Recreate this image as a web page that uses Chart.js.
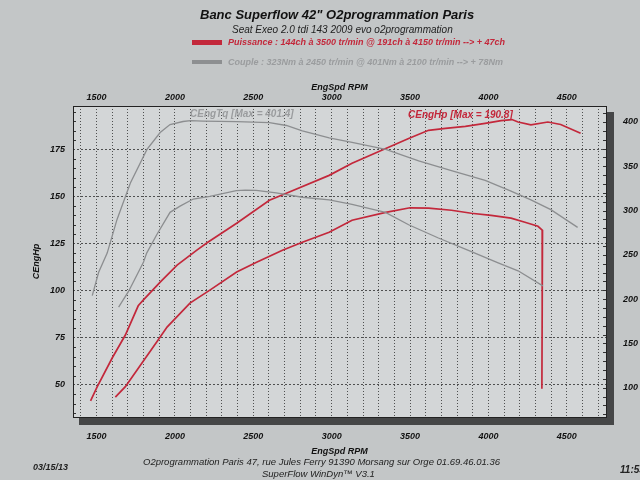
<!DOCTYPE html>
<html>
<head>
<meta charset="utf-8">
<script src="https://cdn.jsdelivr.net/npm/chart.js@4.4.1/dist/chart.umd.min.js"></script>
<style>
  body { margin: 0; background: #c3c6c7; }
  #wrap { position: relative; width: 640px; height: 480px; overflow: hidden; font-family: 'Liberation Sans', Arial, sans-serif; font-style: italic; }
  #wrap canvas { position: absolute; left: 0; top: 0; }
  .t { position: absolute; white-space: nowrap; line-height: 1; }
  .b { font-weight: bold; }
  .red { color: #c3283b; }
  .grey { color: #9a9c9e; }
  .bar { position: absolute; width: 30px; }
</style>
</head>
<body>
<div id="wrap">
  <canvas id="dyno" width="640" height="480"></canvas>
  <div class="t b" style="left:200px;top:8px;font-size:13px;color:#111">Banc Superflow 42" O2programmation Paris</div>
  <div class="t" style="left:232px;top:25px;font-size:10px;color:#222">Seat Exeo 2.0 tdi 143 2009 evo o2programmation</div>
  <div class="bar" style="left:192px;top:40px;height:5px;background:#c3283b"></div>
  <div class="t b red" style="left:228px;top:38px;font-size:9px">Puissance : 144ch à 3500 tr/min @ 191ch à 4150 tr/min --&gt; + 47ch</div>
  <div class="bar" style="left:192px;top:60px;height:4px;background:#8d8f91"></div>
  <div class="t b grey" style="left:228px;top:58px;font-size:9px">Couple : 323Nm à 2450 tr/min @ 401Nm à 2100 tr/min --&gt; + 78Nm</div>
  <div class="t b grey" style="left:190px;top:109px;font-size:10px">CEngTq [Max = 401.4]</div>
  <div class="t b red" style="left:408px;top:110px;font-size:10px">CEngHp [Max = 190.8]</div>
  <div class="t b" style="left:33px;top:463px;font-size:9px;color:#222">03/15/13</div>
  <div class="t" style="left:143px;top:457px;font-size:9.5px;color:#222">O2programmation Paris 47, rue Jules Ferry 91390 Morsang sur Orge 01.69.46.01.36</div>
  <div class="t" style="left:262px;top:469px;font-size:9.5px;color:#222">SuperFlow WinDyn™ V3.1</div>
  <div class="t b" style="left:620px;top:465px;font-size:10px;color:#222">11:53</div>
</div>
<script>
// puissance après reprog (ch)
const rpmHpTuned = [1462, 1504, 1600, 1684, 1766, 1798, 1906, 2014, 2140, 2210, 2394, 2603, 2711, 2984, 3130, 3345, 3491, 3618, 3726, 3853, 3979, 4081, 4150, 4189, 4271, 4379, 4461, 4588];
const hpTuned = [41.5, 49, 64.3, 76.5, 92, 95, 104.6, 113.6, 121.5, 125.7, 135.8, 148, 151.7, 161.2, 167.6, 175.5, 180.8, 185.1, 186.1, 187.2, 188.8, 190.2, 190.8, 189.5, 188, 189.5, 188.2, 183.5];

// puissance d'origine (ch)
const rpmHpStock = [1620, 1684, 1790, 1893, 1950, 2096, 2223, 2394, 2521, 2686, 2813, 2984, 3130, 3345, 3500, 3618, 3764, 3891, 4017, 4144, 4233, 4316, 4345, 4343, 4341];
const hpStock = [43.5, 49.1, 61.7, 73.8, 80.7, 93.4, 100.3, 109.9, 115.1, 121.5, 125.7, 131, 137.4, 141.6, 144, 143.8, 142.7, 141.1, 140, 138.5, 136.3, 134.2, 132, 90, 48];

// couple après reprog (Nm)
const rpmTqTuned = [1473, 1513, 1568, 1631, 1716, 1822, 1906, 1969, 2052, 2100, 2178, 2394, 2603, 2711, 2813, 2984, 3130, 3345, 3555, 3764, 3979, 4144, 4271, 4398, 4569];
const tqTuned = [204, 230, 252, 290, 331, 369, 388, 397, 400.5, 401.4, 401, 400.4, 399.3, 396, 390, 382, 377, 369, 356, 345, 334, 322, 312, 301, 281];

// couple d'origine (Nm)
const rpmTqStock = [1641, 1705, 1800, 1820, 1885, 1969, 2033, 2117, 2223, 2392, 2450, 2519, 2646, 2813, 2984, 3130, 3343, 3491, 3681, 3872, 4062, 4189, 4347];
const tqStock = [191, 209, 242, 252, 273, 298, 305, 313, 316, 322.5, 323, 322.8, 320, 315, 312, 307, 298, 284, 269, 255, 241, 232, 215];

const rpmLabels = [1500, 2000, 2500, 3000, 3500, 4000, 4500];
const hpLabels = [50, 75, 100, 125, 150, 175];
const tqLabels = [100, 150, 200, 250, 300, 350, 400];

const RED = '#c3283b';
const GREY = '#8c8e90';
const GRID = 'rgba(35,35,35,0.75)';
const tickFont = { family: "'Liberation Sans', Arial, sans-serif", size: 9, weight: 'bold', style: 'italic' };
const pts = (xs, ys) => xs.map((x, i) => ({ x, y: ys[i] }));

const paperPlugin = {
    id: 'paper',
    beforeDraw(chart) {
        const { ctx, chartArea: a } = chart;
        ctx.save();
        ctx.fillStyle = '#454647';
        ctx.fillRect(a.left + 6, a.bottom, a.right - a.left + 2, 8);
        ctx.fillRect(a.right, a.top + 6, 8, a.bottom - a.top);
        ctx.fillStyle = '#d3d6d7';
        ctx.fillRect(a.left, a.top, a.right - a.left, a.bottom - a.top);
        ctx.restore();
    },
    afterDraw(chart) {
        const { ctx, chartArea: a, scales } = chart;
        ctx.save();
        ctx.strokeStyle = '#333';
        ctx.lineWidth = 1;
        ctx.beginPath();
        for (let v = 35; v < 198; v += 5) {
            if (v % 25 === 0) continue;
            const y = Math.round(scales.y.getPixelForValue(v)) + 0.5;
            ctx.moveTo(a.left, y); ctx.lineTo(a.left + 3, y);
        }
        for (let v = 70; v < 418; v += 10) {
            const y = Math.round(scales.y2.getPixelForValue(v)) + 0.5;
            ctx.moveTo(a.right, y); ctx.lineTo(a.right - 3, y);
        }
        ctx.stroke();
        ctx.strokeStyle = '#222';
        ctx.strokeRect(a.left + 0.5, a.top + 0.5, a.right - a.left, a.bottom - a.top);
        ctx.restore();
    }
};

new Chart(document.getElementById('dyno'), {
    type: 'line',
    data: {
        datasets: [
            { label: 'CEngTq origine', data: pts(rpmTqStock, tqStock), yAxisID: 'y2', borderColor: GREY, borderWidth: 1.3 },
            { label: 'CEngTq', data: pts(rpmTqTuned, tqTuned), yAxisID: 'y2', borderColor: GREY, borderWidth: 1.3 },
            { label: 'CEngHp origine', data: pts(rpmHpStock, hpStock), yAxisID: 'y', borderColor: RED, borderWidth: 1.7 },
            { label: 'CEngHp', data: pts(rpmHpTuned, hpTuned), yAxisID: 'y', borderColor: RED, borderWidth: 1.7 }
        ]
    },
    options: {
        responsive: false,
        animation: false,
        parsing: false,
        layout: { padding: { left: 27, right: 0, top: 78, bottom: 23 } },
        elements: { point: { radius: 0 }, line: { tension: 0 } },
        plugins: { legend: { display: false }, tooltip: { enabled: false } },
        scales: {
            x: {
                type: 'linear', position: 'bottom', min: 1350, max: 4750,
                afterBuildTicks: s => { const t = []; for (let v = 1400; v <= 4700; v += 100) t.push({ value: v }); s.ticks = t; },
                afterFit: s => { s.height = 40; },
                ticks: { autoSkip: false, maxRotation: 0, padding: 14, color: '#111', font: tickFont, callback: v => rpmLabels.includes(v) ? String(v) : '' },
                grid: { color: GRID, lineWidth: 1, drawTicks: false },
                border: { display: false, dash: [1, 2] },
                title: { display: true, text: 'EngSpd RPM', color: '#111', font: tickFont, padding: { top: 1, bottom: 0 } }
            },
            x2: {
                type: 'linear', position: 'top', min: 1350, max: 4750,
                afterBuildTicks: s => { s.ticks = rpmLabels.map(v => ({ value: v })); },
                afterFit: s => { s.height = 28; },
                ticks: { autoSkip: false, maxRotation: 0, padding: 3, color: '#111', font: tickFont, callback: v => String(v) },
                grid: { display: false, drawTicks: false },
                border: { display: false },
                title: { display: true, text: 'EngSpd RPM', color: '#111', font: tickFont, padding: { top: 4, bottom: 0 } }
            },
            y: {
                type: 'linear', position: 'left', min: 33, max: 198,
                afterBuildTicks: s => { s.ticks = hpLabels.map(v => ({ value: v })); },
                afterFit: s => { s.width = 46; },
                ticks: { padding: 8, color: '#111', font: tickFont },
                grid: { color: GRID, lineWidth: 1, drawTicks: false },
                border: { display: false, dash: [2, 2] },
                title: { display: true, text: 'CEngHp', color: '#111', font: tickFont, padding: { top: 4, bottom: 0 } }
            },
            y2: {
                type: 'linear', position: 'right', min: 67, max: 418,
                afterBuildTicks: s => { s.ticks = tqLabels.map(v => ({ value: v })); },
                afterFit: s => { s.width = 34; },
                ticks: { padding: 17, color: '#111', font: tickFont },
                grid: { display: false, drawTicks: false },
                border: { display: false }
            }
        }
    },
    plugins: [paperPlugin]
});
</script>
</body>
</html>
